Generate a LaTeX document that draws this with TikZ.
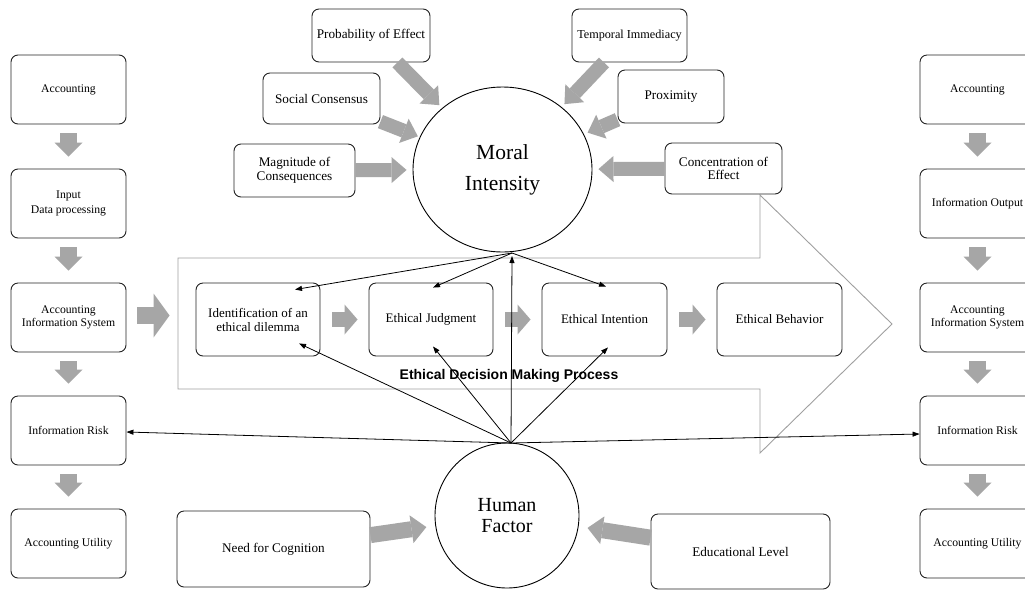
\documentclass[tikz,border=0pt]{standalone}
\usepackage{fontspec}
\setmainfont{Liberation Serif}
\newfontfamily\arialfont{Liberation Sans}
\usetikzlibrary{arrows.meta,calc,shapes.geometric}
\definecolor{arrgray}{RGB}{166,166,166}
\definecolor{outgray}{RGB}{160,160,160}
\definecolor{boxline}{RGB}{35,35,35}
\begin{document}
\begin{tikzpicture}[x=1pt,y=-1pt,
  box/.style={draw=boxline, line width=0.9pt, rounded corners=7pt, fill=white, align=center, inner sep=1pt},
  colbox/.style={box, minimum width=115pt, minimum height=69pt, font=\fontsize{11.7}{12.5}\selectfont},
  topbox/.style={box, minimum height=53pt, font=\fontsize{13.2}{13.5}\selectfont},
  midbox/.style={box, minimum width=124pt, minimum height=73pt, font=\fontsize{13}{14}\selectfont},
  botbox/.style={box, font=\fontsize{13.2}{14}\selectfont},
  bigell/.style={draw=black, line width=0.9pt, ellipse, inner sep=0pt, align=center, fill=white},
  fatbase/.style={draw=arrgray, line cap=butt, line join=miter},
  coldown/.style={fatbase, line width=17pt, -{Triangle[length=14pt,width=28pt,line width=0pt]}, shorten <=9pt, shorten >=12pt},
  midright/.style={fatbase, line width=15pt, -{Triangle[length=13pt,width=30pt,line width=0pt]}, shorten <=12pt, shorten >=11pt},
  topfat/.style={fatbase, line width=14pt, -{Triangle[length=15pt,width=26pt,line width=0pt]}},
  botfat/.style={fatbase, line width=16pt, -{Triangle[length=15pt,width=28pt,line width=0pt]}, shorten >=9pt},
  bigfat/.style={fatbase, line width=17pt, -{Triangle[length=16pt,width=44pt,line width=0pt]}},
  blk/.style={draw=black, line width=0.8pt, -{Triangle[length=7pt,width=5pt]}}
]
\useasboundingbox (0,0) rectangle (1025,590);
\fill[white] (0,0) rectangle (1025,590);

% process big arrow outline
\draw[outgray, line width=0.9pt] (178,258) -- (760,258) -- (760,195) -- (892,324) -- (760,453) -- (760,389) -- (178,389) -- cycle;

% left column
\node[colbox] (accL) at (68.5,89.5) {Accounting};
\node[colbox] (inpL) at (68.5,203.5) {Input\\[3pt]Data processing};
\node[colbox] (aisL) at (68.5,317.5) {Accounting\\Information System};
\node[colbox] (riskL) at (68.5,430.5) {Information Risk};
\node[colbox] (utilL) at (68.5,543.5) {Accounting Utility};

% right column
\node[colbox] (accR) at (977.5,89.5) {Accounting};
\node[colbox] (outR) at (977.5,203.5) {Information Output};
\node[colbox] (aisR) at (977.5,317.5) {Accounting\\Information System};
\node[colbox] (riskR) at (977.5,430.5) {Information Risk};
\node[colbox] (utilR) at (977.5,543.5) {Accounting Utility};

% column arrows
\draw[coldown] (accL) -- (inpL);
\draw[coldown] (inpL) -- (aisL);
\draw[coldown] (aisL) -- (riskL);
\draw[coldown] (riskL) -- (utilL);
\draw[coldown] (accR) -- (outR);
\draw[coldown] (outR) -- (aisR);
\draw[coldown] (aisR) -- (riskR);
\draw[coldown] (riskR) -- (utilR);

% top factor boxes
\node[topbox, minimum width=118pt] (prob) at (371,35.5) {Probability of Effect};
\node[topbox, minimum width=117pt, minimum height=51pt] (soc) at (321.5,98.5) {Social Consensus};
\node[topbox, minimum width=121pt] (magn) at (294.5,170.5) {Magnitude of\\Consequences};
\node[topbox, minimum width=115pt, font=\fontsize{12.2}{13}\selectfont] (temp) at (629.5,35.5) {Temporal Immediacy};
\node[topbox, minimum width=106pt] (prox) at (671,96.5) {Proximity};
\node[topbox, minimum width=117pt, minimum height=51pt] (conc) at (723.5,168.5) {Concentration of\\Effect};

% central ellipses
\node[bigell, minimum width=179pt, minimum height=165pt, font=\fontsize{21.5}{31}\selectfont] (mi) at (502.5,169.5) {Moral\\Intensity};
\node[bigell, minimum width=144pt, minimum height=145pt, font=\fontsize{20}{21.5}\selectfont] (hf) at (507,515.5) {Human\\Factor};

% top fat arrows
\draw[topfat, shorten >=4pt] (prob) -- (mi);
\draw[topfat, shorten >=2pt] (soc) -- (mi);
\draw[topfat, shorten >=6pt] (magn) -- (mi);
\draw[topfat, shorten >=4pt] (temp) -- (mi);
\draw[topfat, shorten >=4pt] (prox) -- (mi);
\draw[topfat, shorten >=6pt] (conc) -- (mi);

% process boxes
\node[midbox] (ident) at (258,319.5) {Identification of an\\ethical dilemma};
\node[midbox] (judg) at (431,319.5) {Ethical Judgment};
\node[midbox, minimum width=125pt] (inten) at (604.5,319.5) {Ethical Intention};
\node[midbox, minimum width=125pt] (behav) at (779.5,319.5) {Ethical Behavior};

\draw[midright] (ident) -- (judg);
\draw[midright] (judg) -- (inten);
\draw[midright] (inten) -- (behav);
\draw[bigfat, shorten <=11pt, shorten >=26pt] ($(aisL.east)+(0,-2)$) -- ($(aisL.east -| ident.west)+(0,-2)$);

\node[font={\arialfont\bfseries\fontsize{14}{16}\selectfont}] (edmp) at (509,376) {Ethical Decision Making Process};

% bottom boxes
\node[botbox, minimum width=193pt, minimum height=76pt] (nfc) at (273.5,549) {Need for Cognition};
\node[botbox, minimum width=179pt, minimum height=75pt] (edu) at (740.5,551.5) {Educational Level};
\draw[botfat] (nfc) -- (hf);
\draw[botfat] (edu) -- (hf);

% black connectors
\coordinate (mib) at (512,253);
\coordinate (hft) at (511,443);
\draw[blk] (mib) -- ($(ident.north)+(37,7)$);
\draw[blk] (mib) -- ($(judg.north)+(2,5)$);
\draw[blk] (mib) -- ($(inten.north)+(1.5,4)$);
\draw[blk] (hft) -- ($(mib)+(0,3)$);
\draw[blk] (hft) -- ($(ident.south)+(41,-13)$);
\draw[blk] (hft) -- ($(judg.south)+(2,-10)$);
\draw[blk] (hft) -- ($(inten.south)+(3.5,-9)$);
\draw[blk] (hft) -- ($(riskL.east)+(0,1.5)$);
\draw[blk] (hft) -- ($(riskR.west)+(0,3.5)$);
\end{tikzpicture}
\end{document}
